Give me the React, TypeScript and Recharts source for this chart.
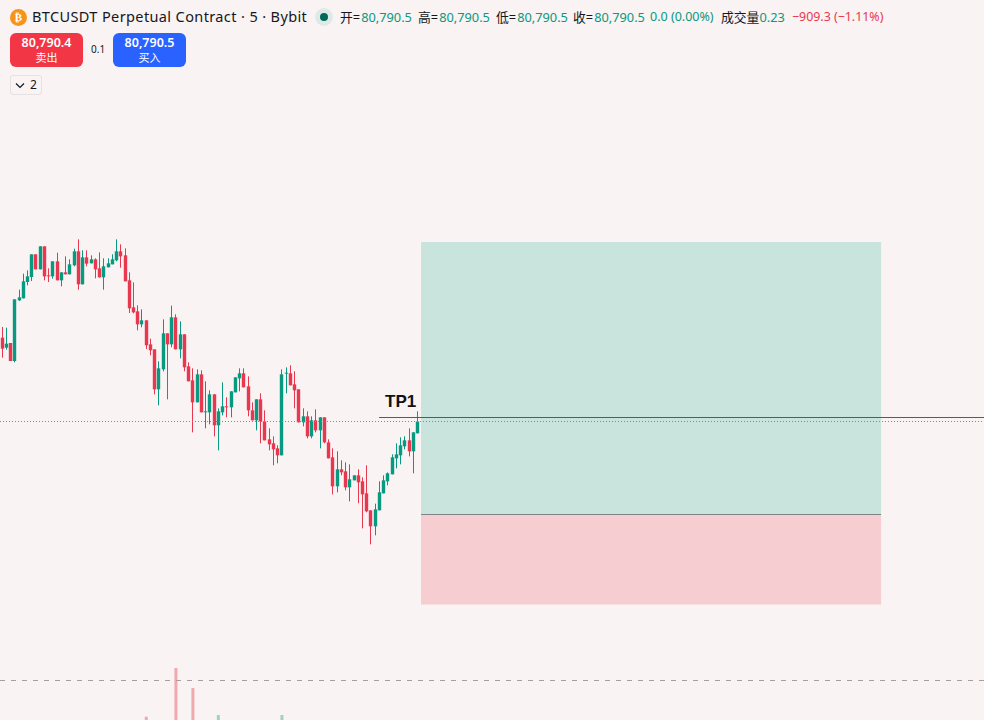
import React from "react"
import { Bar, Cell, ComposedChart, ReferenceArea, ReferenceLine, XAxis, YAxis } from "recharts"

// candles, left to right
const opens = [
    81042, 81012, 81026, 80972, 81154, 81160, 81209, 81224, 81292, 81247,
    81316, 81229, 81226, 81271, 81214, 81238, 81232, 81259, 81301, 81202,
    81283, 81265, 81277, 81250, 81223, 81253, 81262, 81274, 81301, 81289,
    81214, 81133, 81121, 81082, 81094, 81022, 81007, 80887, 80947, 81055,
    81022, 81103, 81007, 81052, 80956, 80914, 80848, 80932, 80818, 80818,
    80872, 80779, 80818, 80836, 80833, 80878, 80920, 80935, 80896, 80824,
    80794, 80857, 80791, 80737, 80725, 80710, 80689, 80934, 80935, 80902,
    80887, 80788, 80806, 80746, 80794, 80764, 80803, 80728, 80683, 80596,
    80647, 80641, 80593, 80614, 80629, 80611, 80575, 80524, 80476, 80524,
    80575, 80611, 80632, 80680, 80689, 80716, 80734, 80701, 80755,
]
const highs = [
    81074, 81072, 81026, 81157, 81186, 81234, 81244, 81292, 81292, 81316,
    81316, 81250, 81271, 81297, 81238, 81286, 81277, 81309, 81337, 81304,
    81304, 81289, 81280, 81298, 81280, 81280, 81292, 81337, 81322, 81310,
    81238, 81208, 81139, 81127, 81094, 81039, 81007, 80971, 81097, 81055,
    81138, 81112, 81091, 81052, 80968, 80950, 80947, 80944, 80911, 80884,
    80872, 80830, 80908, 80863, 80881, 80923, 80950, 80950, 80926, 80848,
    80857, 80875, 80824, 80770, 80746, 80719, 80947, 80953, 80959, 80941,
    80887, 80830, 80821, 80806, 80827, 80803, 80803, 80737, 80710, 80701,
    80674, 80668, 80662, 80629, 80647, 80623, 80659, 80524, 80544, 80611,
    80629, 80638, 80692, 80725, 80743, 80746, 80770, 80758, 80821,
]
const lows = [
    80982, 81006, 80972, 80968, 81152, 81160, 81199, 81212, 81247, 81247,
    81214, 81209, 81219, 81214, 81196, 81232, 81232, 81256, 81186, 81202,
    81256, 81265, 81220, 81222, 81186, 81253, 81262, 81271, 81252, 81211,
    81116, 81115, 81064, 81073, 81008, 80989, 80872, 80839, 80941, 80857,
    81013, 81007, 80980, 80941, 80911, 80758, 80848, 80818, 80770, 80782,
    80746, 80704, 80809, 80803, 80803, 80878, 80881, 80893, 80806, 80794,
    80764, 80725, 80734, 80704, 80659, 80665, 80689, 80875, 80899, 80830,
    80788, 80776, 80740, 80740, 80758, 80710, 80725, 80680, 80572, 80578,
    80629, 80584, 80551, 80614, 80545, 80470, 80518, 80422, 80449, 80524,
    80575, 80599, 80632, 80650, 80662, 80707, 80686, 80635, 80755,
]
const closes = [
    81009, 81024, 80972, 81157, 81163, 81211, 81226, 81292, 81247, 81316,
    81226, 81227, 81271, 81214, 81238, 81232, 81262, 81301, 81202, 81283,
    81264, 81277, 81247, 81223, 81256, 81265, 81277, 81301, 81286, 81211,
    81130, 81118, 81082, 81094, 81019, 81004, 80887, 80950, 81055, 81022,
    81103, 81007, 81052, 80953, 80911, 80848, 80932, 80818, 80821, 80872,
    80779, 80821, 80836, 80833, 80881, 80923, 80935, 80893, 80824, 80794,
    80857, 80791, 80734, 80722, 80707, 80689, 80932, 80937, 80899, 80884,
    80788, 80806, 80746, 80794, 80764, 80803, 80728, 80680, 80596, 80647,
    80638, 80593, 80617, 80629, 80608, 80572, 80521, 80476, 80527, 80578,
    80614, 80635, 80683, 80692, 80719, 80734, 80701, 80758, 80790.5,
]

// only the tallest volume bars reach into the visible part of the pane
const volumeCandles = [34, 41, 45, 51, 66]
const volumeValues = [3.3, 52, 32, 5, 5]

const lastPrice = 80790.5
const tp1Price = 80802.5
const boxTop = 81329
const boxMid = 80511.5
const boxBottom = 80241.5
const paneLine = 80013.5
const boxStart = 98.9
const boxEnd = 207.4
const tp1Start = 89
const xMin = -0.4
const xMax = 231.67

const legendItems = [
    { label: "开", left: 340 },
    { label: "高", left: 418 },
    { label: "低", left: 496 },
    { label: "收", left: 573 },
]
const priceText = "80,790.5"

const UP = "#089981"
const DOWN = "#e8384f"

const chartData = opens.map((open, i) => {
    const v = volumeCandles.indexOf(i)
    return {
        index: i,
        open,
        high: highs[i],
        low: lows[i],
        close: closes[i],
        volume: v >= 0 ? volumeValues[v] : null,
    }
})

function Candle(props: any) {
    const { x = 0, y = 0, width = 0, height = 0, payload } = props
    const { open, close, high, low } = payload
    const perUnit = height / (high - low)
    const bodyTop = y + (high - Math.max(open, close)) * perUnit
    const bodyBottom = y + (high - Math.min(open, close)) * perUnit
    const center = Math.round(x + width / 2 - 0.5)
    const color = close >= open ? UP : DOWN
    return (
        <g>
            <rect x={center} y={y} width={1} height={height} fill={color} />
            <rect x={center - 1.2} y={bodyTop} width={3.4} height={Math.max(bodyBottom - bodyTop, 1)} fill={color} />
        </g>
    )
}

const textBase: React.CSSProperties = { position: "absolute", whiteSpace: "nowrap", lineHeight: 1 }
const uiFont = '"Noto Sans", "Noto Sans CJK SC", sans-serif'

function Header() {
    return (
        <div style={{ position: "absolute", left: 0, top: 0, width: 984, height: 100, fontFamily: uiFont, color: "#131722" }}>
            <div style={{ ...textBase, left: 10, top: 9, width: 17, height: 17, borderRadius: "50%", background: "#f7931a", color: "#fff", fontSize: 11, fontWeight: 700, lineHeight: "17px", textAlign: "center", fontFamily: '"DejaVu Sans"' }}>₿</div>
            <div style={{ ...textBase, left: 32, top: 9, fontSize: 14.5, letterSpacing: 0.38 }}>BTCUSDT Perpetual Contract · 5 · Bybit</div>
            <div style={{ position: "absolute", left: 315, top: 8, width: 18, height: 18, borderRadius: "50%", background: "#dfeae8" }} />
            <div style={{ position: "absolute", left: 320, top: 13, width: 8, height: 8, borderRadius: "50%", background: "#00695c" }} />
            {legendItems.map(item => (
                <div key={item.label} style={{ ...textBase, left: item.left, top: 11, fontSize: 12.8 }}>
                    {item.label}=<span style={{ color: UP, marginLeft: 1 }}>{priceText}</span>
                </div>
            ))}
            <div style={{ ...textBase, left: 650, top: 11, fontSize: 12.5, color: UP }}>0.0 (0.00%)</div>
            <div style={{ ...textBase, left: 721, top: 11, fontSize: 12.8 }}>
                成交量<span style={{ color: UP }}>0.23</span>
            </div>
            <div style={{ ...textBase, left: 792, top: 11, fontSize: 12.4, color: DOWN }}>−909.3 (−1.11%)</div>

            <div style={{ position: "absolute", left: 10, top: 33, width: 73, height: 34, borderRadius: 6, background: "#f23645", color: "#fff", textAlign: "center" }}>
                <div style={{ ...textBase, left: 0, width: 73, top: 4, fontSize: 12.5, fontWeight: 600 }}>80,790.4</div>
                <div style={{ ...textBase, left: 0, width: 73, top: 19, fontSize: 11 }}>卖出</div>
            </div>
            <div style={{ ...textBase, left: 91, top: 44, fontSize: 10 }}>0.1</div>
            <div style={{ position: "absolute", left: 113, top: 33, width: 73, height: 34, borderRadius: 6, background: "#2962ff", color: "#fff", textAlign: "center" }}>
                <div style={{ ...textBase, left: 0, width: 73, top: 4, fontSize: 12.5, fontWeight: 600 }}>80,790.5</div>
                <div style={{ ...textBase, left: 0, width: 73, top: 19, fontSize: 11 }}>买入</div>
            </div>

            <div style={{ position: "absolute", left: 10, top: 75, width: 30, height: 18, border: "1px solid #e6e2e2", borderRadius: 3 }}>
                <svg width={10} height={8} style={{ position: "absolute", left: 4, top: 6 }}>
                    <path d="M1 1.5 L5 5.5 L9 1.5" fill="none" stroke="#131722" strokeWidth={1.2} />
                </svg>
                <div style={{ ...textBase, left: 19, top: 3, fontSize: 12 }}>2</div>
            </div>
        </div>
    )
}

export default function App() {
    return (
        <div style={{ position: "absolute", left: 0, top: 0, width: 984, height: 720, overflow: "hidden", background: "#f9f3f3" }}>
            <ComposedChart width={984} height={720} data={chartData} margin={{ top: 0, right: 0, bottom: 0, left: 0 }}>
                <XAxis dataKey="index" type="number" domain={[xMin, xMax]} allowDataOverflow hide />
                <XAxis xAxisId="volumeX" dataKey="index" type="number" domain={[xMin, xMax]} allowDataOverflow hide />
                <YAxis yAxisId="price" domain={[79895, 82055]} allowDataOverflow hide />
                <YAxis yAxisId="volume" domain={[0, 720]} allowDataOverflow hide />

                <ReferenceArea yAxisId="price" x1={boxStart} x2={boxEnd} y1={boxMid} y2={boxTop} fill="#c9e3dd" fillOpacity={1} />
                <ReferenceArea yAxisId="price" x1={boxStart} x2={boxEnd} y1={boxBottom} y2={boxMid} fill="#f6cdd1" fillOpacity={1} />
                <ReferenceLine yAxisId="price" segment={[{ x: boxStart, y: boxMid }, { x: boxEnd, y: boxMid }]} stroke="#7d8584" />
                <ReferenceLine yAxisId="price" y={lastPrice} stroke="#22b79c" strokeDasharray="1 2" />
                <ReferenceLine yAxisId="price" segment={[{ x: tp1Start, y: tp1Price }, { x: xMax, y: tp1Price }]} stroke="#555b5e" />
                <ReferenceLine yAxisId="price" y={paneLine} stroke="#a79d9e" strokeDasharray="5 6" />

                <Bar xAxisId="volumeX" yAxisId="volume" dataKey="volume" barSize={3} isAnimationActive={false}>
                    {chartData.map(d => (
                        <Cell key={d.index} fill={d.close >= d.open ? "#9cd3c6" : "#f2a9ae"} />
                    ))}
                </Bar>
                <Bar yAxisId="price" dataKey={(d: any) => [d.low, d.high]} barSize={3} shape={<Candle />} isAnimationActive={false} />
            </ComposedChart>
            <Header />
            <div style={{ ...textBase, left: 385, top: 393, fontFamily: '"Liberation Sans"', fontWeight: 700, fontSize: 17, color: "#111" }}>TP1</div>
        </div>
    )
}
